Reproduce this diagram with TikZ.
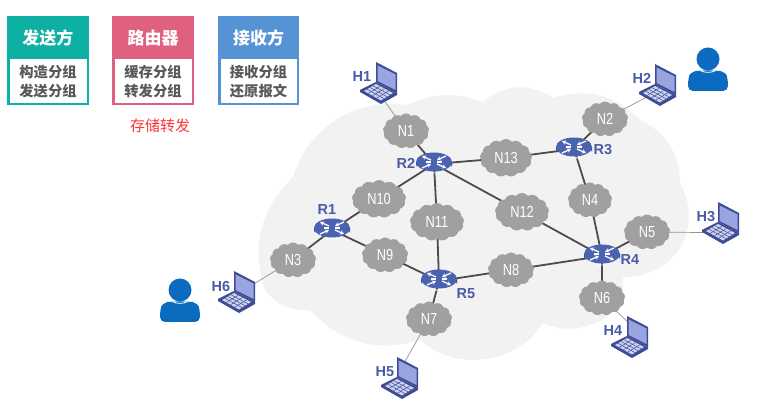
\documentclass[tikz,border=0pt]{standalone}
\usepackage{fontspec}
\setmainfont{Liberation Sans}
\newfontfamily\cjk{Noto Sans CJK SC}
\newfontfamily\netfont[FakeStretch=0.8]{Liberation Sans}
\usetikzlibrary{shapes.symbols,shapes.geometric,calc,arrows.meta}
\definecolor{tealc}{HTML}{0DB0A3}
\definecolor{pinkc}{HTML}{E0617F}
\definecolor{bluec}{HTML}{5593D5}
\definecolor{txtg}{HTML}{595959}
\definecolor{cloudg}{HTML}{A0A0A0}
\definecolor{bgc}{HTML}{F2F2F2}
\definecolor{lab}{HTML}{4A5BA8}
\definecolor{rtop}{HTML}{4A62B0}
\definecolor{rside}{HTML}{2F4288}
\definecolor{lapl}{HTML}{9AA4E0}
\definecolor{lapd}{HTML}{3E4C96}
\definecolor{persc}{HTML}{0B6BBF}
\pgfdeclarelayer{cloudlayer}
\pgfdeclarelayer{edgelayer}
\pgfsetlayers{cloudlayer,edgelayer,main}
\tikzset{
  net/.style={shape=cloud,cloud puffs=13,cloud puff arc=100,cloud ignores aspect,fill=cloudg,draw=none,text=white,
    minimum width=46pt,minimum height=35pt,inner sep=0pt,font=\netfont\fontsize{16}{17}\selectfont},
  netw/.style={net,minimum width=54pt,minimum height=38pt},
  routerbox/.style={shape=ellipse,minimum width=35pt,minimum height=24pt,inner sep=0pt,draw=none},
  hostbox/.style={shape=circle,minimum size=24pt,inner sep=0pt,draw=none},
  lbl/.style={text=lab,font=\fontsize{14.5}{16}\selectfont\bfseries,inner sep=0pt},
  trunk/.style={draw=black!70,line width=1.8pt},
  tail/.style={draw=black!42,line width=0.7pt},
  headtxt/.style={text=white,font=\cjk\fontsize{17}{20}\selectfont\bfseries,inner sep=0pt},
  bodytxt/.style={text=txtg,font=\cjk\fontsize{14.3}{19}\selectfont\bfseries,align=center,inner sep=0pt},
  rarrow/.style={white,line width=1.3pt,-{Stealth[length=4pt,width=4.5pt]}},
  router icon/.pic={
    \fill[rside] (-18,-2) -- (-18,3) arc[start angle=180,end angle=360,x radius=18,y radius=9.5] -- (18,-2) -- cycle;
    \fill[rtop] (0,-2) ellipse[x radius=18,y radius=9.5];
    \draw[rarrow] (-3,-4) -- (-12,-8);
    \draw[rarrow] (12,-8) -- (3,-4);
    \draw[rarrow] (-12,4) -- (-3,0);
    \draw[rarrow] (3,0) -- (12,4);
    \draw[white,line width=1.3pt] (-8,-2) -- (-3,-2) (3,-2) -- (8,-2);
    \node[text=white,font=\fontsize{2.8}{3}\selectfont\bfseries,inner sep=0pt] at (0,9.8) {ROUTER};
  },
  laptop icon/.pic={
    \fill[lapd] (-5,-22) -- (16,-11) -- (16,9) -- (-5,-2) -- cycle;
    \fill[lapl] (-3.5,-18.5) -- (14.5,-9.5) -- (14.5,6) -- (-3.5,-3) -- cycle;
    \fill[lapd] (-5,-2) -- (16,9) -- (16,11) -- (0,20) -- (-21,8) -- (-21,6) -- cycle;
    \fill[lapl!50!white] (-5,0) -- (12,9) -- (0,16.5) -- (-17,7) -- cycle;
    \foreach \t in {0.25,0.5,0.75}{
      \draw[lapd,line width=0.5pt] ($(-5,0)!\t!(-17,7)$) -- ($(12,9)!\t!(0,16.5)$);
      \draw[lapd,line width=0.5pt] ($(-5,0)!\t!(12,9)$) -- ($(-17,7)!\t!(0,16.5)$);
    }
  },
  person icon/.pic={
    \fill[persc] (0,-10) circle[radius=11.5];
    \fill[persc,rounded corners=5pt] (-20,22) -- (-20,11) .. controls (-18,4) and (-12,2) .. (-8,1.5) -- (8,1.5) .. controls (12,2) and (18,4) .. (20,11) -- (20,22) -- cycle;
    \draw[white,line width=0.8pt] (-8,1.5) .. controls (-3,4) and (3,4) .. (8,1.5);
  },
}
\newcommand{\topbox}[9]{%
  \fill[#4] (#1,#2) rectangle (#3,105.5);
  \fill[white] (#1+2.5,59.5) rectangle (#3-2.5,103.3);
  \node[headtxt] (#5) at ({(#1+#3)/2},38) {#6};
  \node[bodytxt] (#7) at ({(#1+#3)/2},81.5) {#8\\#9};
}
\begin{document}
\begin{tikzpicture}[x=1pt,y=-1pt]
\useasboundingbox (0,0) rectangle (780,419);
\begin{pgfonlayer}{cloudlayer}
  \fill[bgc] (293,177) to[bend left=40] (407,105) to[bend left=22] (483,102)
    to[bend left=38] (553,98) to[bend left=32] (640,120) to[bend left=32] (680,183)
    to[bend left=60,looseness=1.2] (623,277) to[bend left=40] (590,325) to[bend left=20] (543,323)
    to[bend left=50] (420,340) to[bend left=32] (310,310) to[bend left=28] (265,290)
    to[bend left=32] cycle;
\end{pgfonlayer}

% routers
\node[routerbox] (R1) at (332,230) {}; \pic at (332,230) {router icon};
\node[routerbox] (R2) at (434,164) {}; \pic at (434,164) {router icon};
\node[routerbox] (R3) at (574,149) {}; \pic at (574,149) {router icon};
\node[routerbox] (R4) at (602,256) {}; \pic at (602,256) {router icon};
\node[routerbox] (R5) at (439,281) {}; \pic at (439,281) {router icon};
\node[lbl] (lR1) at (327,210) {R1};
\node[lbl] (lR2) at (406,163) {R2};
\node[lbl] (lR3) at (603,150) {R3};
\node[lbl] (lR4) at (630,260) {R4};
\node[lbl] (lR5) at (466,294) {R5};

% networks
\node[net] (N1) at (406,131) {N1};
\node[net] (N2) at (605,119) {N2};
\node[net] (N3) at (293,260) {N3};
\node[net,minimum width=44pt] (N4) at (590,200) {N4};
\node[net] (N5) at (647,232) {N5};
\node[net] (N6) at (602,298) {N6};
\node[net] (N7) at (429,319) {N7};
\node[net] (N8) at (511,270) {N8};
\node[net] (N9) at (385,255) {N9};
\node[netw] (N10) at (379,199) {N10};
\node[netw] (N11) at (437,222) {N11};
\node[netw] (N12) at (522,212) {N12};
\node[netw,minimum width=52pt] (N13) at (506,158) {N13};

% hosts
\node[hostbox] (H1) at (381,84) {}; \pic at (381,84) {laptop icon};
\node[hostbox] (H2) at (660,86) {}; \pic at (660,86) {laptop icon};
\node[hostbox] (H3) at (723,224) {}; \pic at (723,224) {laptop icon};
\node[hostbox] (H4) at (632,338) {}; \pic at (632,338) {laptop icon};
\node[hostbox] (H5) at (402,379) {}; \pic at (402,379) {laptop icon};
\node[hostbox] (H6) at (239,293) {}; \pic at (239,293) {laptop icon};
\node[lbl] (lH1) at (362,77) {H1};
\node[lbl] (lH2) at (642,78) {H2};
\node[lbl] (lH3) at (706,217) {H3};
\node[lbl] (lH4) at (613,331) {H4};
\node[lbl] (lH5) at (385,372) {H5};
\node[lbl] (lH6) at (221,287) {H6};

% people
\pic at (708,69) {person icon};
\pic at (180,300) {person icon};

\begin{pgfonlayer}{edgelayer}
  \foreach \a/\b in {N1/R2,R2/N13,N13/R3,R3/N2,R3/N4,N4/R4,R4/N5,R4/N6,R2/N12,N12/R4,R2/N10,N10/R1,R2/N11,N11/R5,R1/N9,N9/R5,R5/N8,N8/R4,R5/N7,R1/N3}
    \draw[trunk] (\a.center) -- (\b.center);
  \draw[tail] (H1.south) -- (N1.center);
  \draw[tail] (N2.center) -- (H2.south west);
  \draw[tail] (N5.center) -- (H3.south west);
  \draw[tail] (N6.center) -- (H4.north);
  \draw[tail] (N7.center) -- (H5.north);
  \draw[tail] (N3.center) -- (H6.center);
\end{pgfonlayer}

% legend boxes
\topbox{7}{16}{89}{tealc}{h1}{发送方}{b1}{构造分组}{发送分组}
\topbox{112}{16}{194}{pinkc}{h2}{路由器}{b2}{缓存分组}{转发分组}
\topbox{218}{16}{299}{bluec}{h3}{接收方}{b3}{接收分组}{还原报文}
\node[text=red!80!white,font=\cjk\fontsize{15}{18}\selectfont,inner sep=0pt] (sf) at (160,126) {存储转发};
\end{tikzpicture}
\end{document}
